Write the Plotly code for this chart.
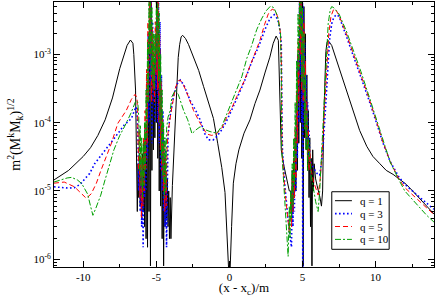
import plotly.graph_objects as go

# ---------------- data: (x - x_c)/m , m^2 (M^k M_k)^{1/2} ----------------
q1_points = [
    (-12, 1.45e-5), (-11, 2.0e-5), (-10, 3.2e-5), (-9.5, 4.3e-5), (-9.0, 6.5e-5), (-8.5, 1.1e-4),
    (-8.0, 2.3e-4), (-7.5, 6.2e-4), (-7.0, 1.35e-3), (-6.77, 1.62e-3), (-6.6, 1.45e-3), (-6.54, 1.0e-3),
    (-6.42, 3e-4), (-6.35, 3e-5),
    (-6.30, 5e-6), (-6.25, 2.5e-5), (-6.20, 8e-6), (-6.15, 3e-5), (-6.10, 6e-6), (-6.05, 2e-5),
    (-6.00, 4e-6), (-5.95, 3.5e-5), (-5.90, 5e-6), (-5.85, 5e-5), (-5.80, 3e-6), (-5.75, 6e-5),
    (-5.70, 2e-6), (-5.65, 9e-5), (-5.60, 1.5e-6), (-5.55, 4e-4), (-5.50, 5e-6), (-5.45, 3e-3),
    (-5.40, 8e-7), (-5.35, 7e-3), (-5.30, 2e-5), (-5.25, 1.5e-3), (-5.20, 4e-5), (-5.15, 8e-4),
    (-5.10, 6e-5), (-5.05, 2e-3), (-5.00, 1e-4), (-4.95, 7e-3), (-4.90, 3e-5), (-4.85, 4e-3),
    (-4.80, 1e-5), (-4.75, 1.2e-3), (-4.70, 6e-6), (-4.65, 3e-4), (-4.60, 2e-6), (-4.55, 8e-5),
    (-4.50, 8e-7), (-4.45, 3e-5), (-4.40, 3e-6), (-4.35, 2e-5), (-4.30, 4e-6), (-4.25, 1.5e-5),
    (-4.20, 3e-6), (-4.15, 1e-5), (-4.10, 2e-6), (-4.05, 8e-6), (-4.00, 2e-6),
    (-3.9, 1.2e-5), (-3.8, 4e-5), (-3.7, 8e-5), (-3.6, 3.4e-4), (-3.5, 9e-4), (-3.4, 1.4e-3),
    (-3.3, 1.8e-3), (-3.2, 1.9e-3), (-3.0, 1.7e-3), (-2.8, 1.4e-3), (-2.45, 9.3e-4), (-2.1, 5.8e-4),
    (-1.77, 3.4e-4), (-1.4, 1.9e-4), (-1.09, 1.15e-4), (-0.8, 5e-5), (-0.52, 2.2e-5), (-0.3, 9.5e-6),
    (-0.15, 2.5e-6), (-0.05, 7e-7), (0.0, 1e-8), (0.05, 7e-7), (0.15, 3e-6), (0.27, 1.3e-5),
    (0.45, 2.5e-5), (0.65, 4e-5), (1.0, 7e-5), (1.41, 1.1e-4), (1.75, 1.9e-4), (2.09, 3e-4),
    (2.45, 5.5e-4), (2.77, 9.1e-4), (3.0, 1.45e-3), (3.2, 1.85e-3), (3.35, 1.6e-3), (3.46, 2.1e-4),
    (3.55, 4e-5), (3.7, 2.5e-5), (3.9, 1.5e-5), (4.1, 1e-5),
    (4.20, 1e-5), (4.25, 4e-6), (4.30, 2e-5), (4.35, 5e-6), (4.40, 3e-5), (4.45, 8e-6),
    (4.50, 6e-5), (4.55, 1e-5), (4.60, 2e-4), (4.65, 2e-5), (4.70, 1e-3), (4.75, 5e-5),
    (4.80, 6e-3), (4.85, 1e-4), (4.90, 8e-3), (4.95, 3e-5), (5.00, 7e-3), (5.05, 8e-7),
    (5.10, 5e-3), (5.15, 6e-5), (5.20, 2e-3), (5.25, 4e-5), (5.30, 5e-4), (5.35, 2e-5),
    (5.40, 1.5e-4), (5.45, 8e-6), (5.50, 6e-5), (5.55, 3e-6), (5.60, 3e-5), (5.65, 8e-7),
    (5.70, 4e-5), (5.75, 1e-5), (5.80, 2.5e-5),
    (5.9, 1.5e-5), (6.0, 1.2e-5), (6.1, 1e-5), (6.2, 8e-6), (6.3, 6e-6), (6.38, 1e-5),
    (6.45, 1e-4), (6.52, 4e-4), (6.6, 1.1e-3), (6.68, 1.5e-3), (6.75, 1.6e-3), (7.0, 1.35e-3),
    (7.55, 5.9e-4), (8.23, 2.1e-4), (8.91, 7.7e-5), (9.4, 4.5e-5), (9.82, 3.2e-5), (10.3, 2.5e-5),
    (10.73, 2.0e-5), (11.2, 1.75e-5), (11.64, 1.5e-5), (12.1, 1.25e-5), (12.54, 1.0e-5),
    (13.0, 7.8e-6), (13.46, 6e-6), (14.0, 4.6e-6),
]

q3_points = [
    (-12, 1.15e-5), (-11.5, 1.12e-5), (-11, 1.1e-5), (-10.6, 1.12e-5), (-10.2, 1.25e-5), (-9.9, 1.5e-5),
    (-9.56, 1.8e-5), (-9.22, 2.5e-5), (-9.0, 2.9e-5), (-8.6, 3.8e-5), (-8.3, 4.5e-5), (-7.9, 5.8e-5),
    (-7.6, 7e-5), (-7.2, 9.2e-5), (-6.9, 1.05e-4), (-6.7, 1.15e-4), (-6.5, 1.5e-4), (-6.38, 1.7e-4),
    (-6.3, 1.2e-4),
    (-6.25, 6e-5), (-6.2, 1e-5), (-6.15, 4e-5), (-6.1, 5e-6), (-6.05, 3e-5), (-6.0, 3e-6),
    (-5.95, 2e-5), (-5.9, 1.5e-6), (-5.85, 5e-5), (-5.8, 8e-6), (-5.75, 1e-4), (-5.7, 1e-5),
    (-5.65, 4e-4), (-5.6, 3e-5), (-5.55, 2e-3), (-5.5, 1e-4), (-5.45, 7e-3), (-5.4, 4e-4),
    (-5.35, 7e-3), (-5.3, 5e-5), (-5.25, 3e-3), (-5.2, 2e-4), (-5.15, 1e-3), (-5.1, 1e-4),
    (-5.05, 2e-3), (-5.0, 3e-4), (-4.95, 7e-3), (-4.9, 1e-4), (-4.85, 7e-3), (-4.8, 5e-5),
    (-4.75, 3e-3), (-4.7, 2e-5), (-4.65, 5e-4), (-4.6, 1e-5), (-4.55, 1.5e-4), (-4.5, 5e-6),
    (-4.45, 6e-5), (-4.4, 3e-6), (-4.35, 4e-5), (-4.3, 1.5e-6), (-4.25, 3e-5), (-4.2, 6e-5),
    (-4.1, 1.1e-4), (-4.0, 1.5e-4),
    (-3.8, 2.6e-4), (-3.6, 3.6e-4), (-3.36, 4.2e-4), (-3.1, 3.5e-4), (-2.68, 2.1e-4), (-2.3, 1.5e-4),
    (-2.0, 1.1e-4), (-1.7, 7e-5), (-1.43, 5.6e-5), (-1.1, 5.6e-5), (-0.86, 6.3e-5), (-0.5, 8e-5),
    (-0.2, 1.05e-4), (0.2, 1.6e-4), (0.6, 2.5e-4), (1.0, 3.9e-4), (1.5, 7.5e-4), (2.0, 1.3e-3),
    (2.5, 2.5e-3), (2.8, 3.4e-3), (3.07, 3.8e-3), (3.3, 3.3e-3), (3.45, 2.3e-3), (3.55, 1.5e-3),
    (3.6, 1e-4), (3.63, 4e-5), (3.8, 1.2e-5), (4.0, 4e-6), (4.2, 1.8e-6), (4.25, 1.5e-6),
    (4.3, 1e-5), (4.35, 3e-6), (4.4, 2e-5), (4.45, 5e-6), (4.5, 5e-5), (4.55, 1e-5),
    (4.6, 2e-4), (4.65, 3e-5), (4.7, 1e-3), (4.75, 1e-4), (4.8, 6e-3), (4.85, 5e-4),
    (4.9, 8e-3), (4.95, 1e-4), (5.0, 7e-3), (5.02, 5e-7), (5.05, 5e-3), (5.1, 2e-4),
    (5.15, 1.5e-3), (5.2, 1e-4), (5.25, 5e-4), (5.3, 5e-5), (5.35, 2e-4), (5.4, 3e-5),
    (5.45, 8e-5), (5.5, 2.8e-5), (5.6, 2.5e-5),
    (5.8, 2.1e-5), (6.0, 1.8e-5), (6.18, 1.7e-5), (6.3, 2.6e-5), (6.41, 4.5e-5), (6.55, 1.3e-4),
    (6.7, 5e-4), (6.85, 1.6e-3), (7.0, 2.8e-3), (7.15, 3.5e-3), (7.32, 3.8e-3), (7.5, 3.6e-3),
    (8.0, 1.85e-3), (8.5, 9.3e-4), (9.0, 4.7e-4), (9.5, 2.3e-4), (10.0, 1.1e-4), (10.5, 5.1e-5),
    (11.0, 2.7e-5), (11.6, 1.6e-5), (12.0, 1.25e-5), (12.5, 1.0e-5), (13.0, 8.2e-6), (13.5, 6.6e-6),
    (14.0, 5.4e-6),
]

q5_points = [
    (-12, 1.3e-5), (-11.3, 1.35e-5), (-10.6, 1.15e-5), (-10.13, 9.1e-6), (-9.79, 7.8e-6), (-9.45, 9.1e-6),
    (-9.1, 1.3e-5), (-8.77, 2.05e-5), (-8.43, 3.2e-5), (-8.1, 4.8e-5), (-7.63, 9.8e-5), (-7.06, 1.5e-4),
    (-6.7, 2.2e-4), (-6.45, 2.6e-4), (-6.32, 2.3e-4),
    (-6.28, 1.5e-4), (-6.22, 2e-5), (-6.17, 8e-5), (-6.12, 8e-6), (-6.07, 5e-5), (-6.02, 4e-6),
    (-5.97, 3e-5), (-5.92, 6e-6), (-5.87, 6e-5), (-5.82, 1e-5), (-5.77, 1.5e-4), (-5.72, 2e-5),
    (-5.67, 6e-4), (-5.62, 5e-5), (-5.57, 3e-3), (-5.52, 2e-4), (-5.47, 7e-3), (-5.42, 1e-3),
    (-5.37, 7e-3), (-5.32, 2e-4), (-5.27, 2.5e-3), (-5.22, 3e-4), (-5.17, 1.5e-3), (-5.12, 2e-4),
    (-5.07, 3e-3), (-5.02, 5e-4), (-4.97, 7e-3), (-4.92, 3e-4), (-4.87, 7e-3), (-4.82, 1e-4),
    (-4.77, 2e-3), (-4.72, 4e-5), (-4.67, 4e-4), (-4.62, 2e-5), (-4.57, 1.2e-4), (-4.52, 1e-5),
    (-4.47, 5e-5), (-4.42, 5e-6), (-4.37, 3e-5), (-4.32, 6e-6), (-4.27, 4e-5),
    (-4.2, 7e-5), (-4.1, 1.05e-4), (-4.0, 1.4e-4), (-3.7, 3.2e-4), (-3.5, 4.1e-4), (-3.36, 4.2e-4),
    (-3.15, 3.6e-4), (-2.9, 2.7e-4), (-2.45, 1.5e-4), (-2.0, 9.8e-5), (-1.54, 6.8e-5), (-1.2, 6.5e-5),
    (-0.86, 6.9e-5), (-0.5, 8.5e-5), (-0.18, 1.2e-4), (0.2, 1.7e-4), (0.5, 2.4e-4), (1.0, 4.0e-4),
    (1.41, 6.6e-4), (1.75, 1.0e-3), (2.09, 1.6e-3), (2.4, 2.7e-3), (2.66, 3.9e-3), (2.93, 4.6e-3),
    (3.15, 4.3e-3), (3.35, 3.3e-3), (3.5, 2.0e-3), (3.57, 6e-4), (3.6, 4e-5), (3.8, 1e-5),
    (4.0, 3.5e-6), (4.1, 2.5e-6),
    (4.2, 8e-6), (4.25, 3e-6), (4.3, 1.5e-5), (4.35, 5e-6), (4.4, 3e-5), (4.45, 8e-6),
    (4.5, 8e-5), (4.55, 1.5e-5), (4.6, 3e-4), (4.65, 5e-5), (4.7, 1.5e-3), (4.75, 2e-4),
    (4.8, 7e-3), (4.85, 1e-3), (4.9, 8e-3), (4.95, 3e-4), (5.0, 6e-3), (5.05, 2e-4),
    (5.1, 3e-3), (5.15, 1e-4), (5.2, 8e-4), (5.25, 6e-5), (5.3, 2e-4), (5.35, 3e-5),
    (5.4, 8e-5), (5.45, 2e-5), (5.5, 4e-5), (5.6, 2e-5),
    (5.75, 1.4e-5), (5.9, 1.1e-5), (6.07, 8.7e-6), (6.2, 1.4e-5), (6.35, 3.5e-5), (6.5, 1.5e-4),
    (6.65, 6e-4), (6.8, 2e-3), (6.95, 3.6e-3), (7.14, 4.6e-3), (7.3, 4.4e-3), (7.5, 3.7e-3),
    (8.0, 2.0e-3), (8.5, 1.0e-3), (9.0, 5.1e-4), (9.5, 2.45e-4), (10.0, 1.15e-4), (10.5, 5.2e-5),
    (11.0, 2.7e-5), (11.6, 1.5e-5), (12.0, 1.12e-5), (12.5, 8.9e-6), (13.0, 7.1e-6), (13.5, 5.6e-6),
    (14.0, 4.5e-6),
]

q10_points = [
    (-12, 1.35e-5), (-11.6, 1.45e-5), (-11.1, 1.55e-5), (-10.8, 1.58e-5), (-10.4, 1.45e-5), (-10.1, 1.28e-5),
    (-9.7, 9e-6), (-9.5, 6e-6), (-9.34, 4.4e-6), (-9.15, 5.5e-6), (-8.8, 8.7e-6), (-8.55, 1.35e-5),
    (-8.2, 2.5e-5), (-7.9, 4.0e-5), (-7.5, 6.5e-5), (-7.18, 8.7e-5), (-6.72, 1.4e-4), (-6.4, 2.1e-4),
    (-6.27, 2.0e-4),
    (-6.2, 1.2e-4), (-6.15, 2e-5), (-6.1, 9e-5), (-6.05, 1.2e-5), (-6.0, 6e-5), (-5.95, 8e-6),
    (-5.9, 5e-5), (-5.85, 1.2e-5), (-5.8, 1e-4), (-5.75, 2e-5), (-5.7, 3e-4), (-5.65, 6e-5),
    (-5.6, 1.5e-3), (-5.55, 2e-4), (-5.5, 6e-3), (-5.45, 1e-3), (-5.4, 7e-3), (-5.35, 5e-4),
    (-5.3, 5e-3), (-5.25, 4e-4), (-5.2, 2e-3), (-5.15, 3e-4), (-5.1, 2e-3), (-5.05, 6e-4),
    (-5.0, 6e-3), (-4.95, 1e-3), (-4.9, 7e-3), (-4.85, 4e-4), (-4.8, 4e-3), (-4.75, 1e-4),
    (-4.7, 1e-3), (-4.65, 3e-5), (-4.6, 3e-4), (-4.55, 1.5e-5), (-4.5, 1e-4), (-4.45, 8e-6),
    (-4.4, 6e-5), (-4.35, 1e-5), (-4.3, 8e-5),
    (-4.2, 1.2e-4), (-4.05, 1.5e-4), (-3.93, 2.4e-4), (-3.7, 3.0e-4), (-3.5, 2.6e-4), (-3.13, 1.5e-4),
    (-2.85, 1.1e-4), (-2.56, 6.9e-5), (-2.3, 7.8e-5), (-2.0, 8.7e-5), (-1.6, 7.8e-5), (-1.32, 7.4e-5),
    (-0.86, 7.0e-5), (-0.5, 9e-5), (-0.2, 1.3e-4), (0.2, 2.1e-4), (0.5, 3e-4), (0.85, 4.7e-4),
    (1.19, 8.7e-4), (1.5, 1.3e-3), (1.87, 2.3e-3), (2.2, 3.3e-3), (2.5, 4.3e-3), (2.82, 5.1e-3),
    (3.05, 4.8e-3), (3.3, 3.6e-3), (3.5, 2.0e-3), (3.55, 5e-4), (3.58, 4e-5), (3.75, 1e-5),
    (3.9, 3e-6), (4.02, 1.1e-6),
    (4.1, 6e-6), (4.15, 2e-6), (4.2, 1e-5), (4.25, 4e-6), (4.3, 2.5e-5), (4.35, 6e-6),
    (4.4, 6e-5), (4.45, 1.2e-5), (4.5, 2e-4), (4.55, 3e-5), (4.6, 8e-4), (4.65, 1.5e-4),
    (4.7, 4e-3), (4.75, 6e-4), (4.8, 8e-3), (4.85, 2e-3), (4.9, 7e-3), (4.95, 4e-4),
    (5.0, 5e-3), (5.05, 3e-4), (5.1, 2e-3), (5.15, 8e-5), (5.2, 5e-4), (5.25, 4e-5),
    (5.3, 1.5e-4), (5.35, 2e-5), (5.4, 6e-5), (5.5, 2.5e-5), (5.6, 1.6e-5),
    (5.75, 1.1e-5), (5.9, 7e-6), (6.07, 5e-6), (6.18, 1e-5), (6.32, 4e-5), (6.48, 1.8e-4),
    (6.62, 8e-4), (6.76, 2.8e-3), (6.9, 4.5e-3), (7.0, 5.0e-3), (7.15, 4.8e-3), (7.5, 3.9e-3),
    (8.0, 2.2e-3), (8.5, 1.12e-3), (9.0, 5.6e-4), (9.5, 2.65e-4), (10.0, 1.22e-4), (10.5, 5.4e-5),
    (11.0, 2.65e-5), (11.6, 1.45e-5), (12.0, 1.0e-5), (12.5, 7.6e-6), (13.0, 5.7e-6), (13.5, 4.4e-6),
    (14.0, 3.5e-6),
]

series_names = ["q = 1", "q = 3", "q = 5", "q = 10"]
series_points = [q1_points, q3_points, q5_points, q10_points]
series_colors = ["#000000", "#0000ff", "#ff0000", "#00a000"]
series_dash = ["solid", "1.6px,2.4px", "5px,3px", "6px,2px,2px,2px"]
series_width = [1, 1.6, 1, 1]

x_tick_vals = [-10, -5, 0, 5, 10]
x_tick_text = ["-10", "-5", "0", "5", "10"]
y_tick_vals = [1e-6, 1e-5, 1e-4, 1e-3]
y_tick_text = ["10<sup>-6</sup>", "10<sup>-5</sup>", "10<sup>-4</sup>", "10<sup>-3</sup>"]

FONT = "Liberation Serif, Times New Roman, serif"

fig = go.Figure()
for name, pts, col, dsh, w in zip(series_names, series_points, series_colors, series_dash, series_width):
    xs = [p[0] for p in pts]
    ys = [p[1] for p in pts]
    fig.add_trace(go.Scatter(x=xs, y=ys, mode="lines", name=name, hoverinfo="skip",
                             line=dict(color=col, dash=dsh, width=w), showlegend=False))

fig.update_layout(
    width=436, height=297,
    margin=dict(l=54, r=2, t=2, b=30, autoexpand=False),
    paper_bgcolor="white", plot_bgcolor="white",
    font=dict(family=FONT, size=11, color="black"),
    hovermode=False,
)

fig.update_xaxes(
    range=[-12, 14], tickmode="array", tickvals=x_tick_vals, ticktext=x_tick_text,
    ticks="inside", ticklen=6, tickcolor="black", automargin=False,
    minor=dict(ticks="inside", ticklen=3, dtick=2.5, tick0=0, tickcolor="black", showgrid=False),
    showline=True, linecolor="black", linewidth=1, mirror="allticks",
    showgrid=False, zeroline=False,
    tickfont=dict(family=FONT, size=11),
    title=dict(text="(x - x<sub>c</sub>)/m", font=dict(family=FONT, size=13), standoff=0),
)
fig.update_yaxes(
    type="log", range=[-6.113, -2.234], tickmode="array", tickvals=y_tick_vals, ticktext=y_tick_text,
    ticks="inside", ticklen=6, tickcolor="black", automargin=False,
    minor=dict(ticks="inside", ticklen=3, dtick="D1", tickcolor="black", showgrid=False),
    showline=True, linecolor="black", linewidth=1, mirror="allticks",
    showgrid=False, zeroline=False,
    tickfont=dict(family=FONT, size=11),
    title=dict(text="m<sup>2</sup>(M<sup>k</sup>M<sub>k</sub>)<sup>1/2</sup>",
               font=dict(family=FONT, size=14), standoff=9),
)

# legend box drawn in paper coordinates
legend_rows = [0.2502, 0.2015, 0.1528, 0.1042]
shapes = [dict(type="rect", xref="paper", yref="paper", x0=0.731, y0=0.0668, x1=0.882, y1=0.284,
               line=dict(color="black", width=1), fillcolor="white", layer="above")]
annotations = []
for name, col, dsh, w, yy in zip(series_names, series_colors, series_dash, series_width, legend_rows):
    shapes.append(dict(type="line", xref="paper", yref="paper", x0=0.7395, x1=0.784, y0=yy, y1=yy,
                       line=dict(color=col, dash=dsh, width=w), layer="above"))
    annotations.append(dict(xref="paper", yref="paper", x=0.801, y=yy, text=name, showarrow=False,
                            xanchor="left", yanchor="middle", font=dict(family=FONT, size=11, color="black")))
fig.update_layout(shapes=shapes, annotations=annotations)

fig.write_html("out.html", config={"displayModeBar": False, "staticPlot": True},
               post_script="document.body.style.margin='0px';document.body.style.overflow='hidden';")
